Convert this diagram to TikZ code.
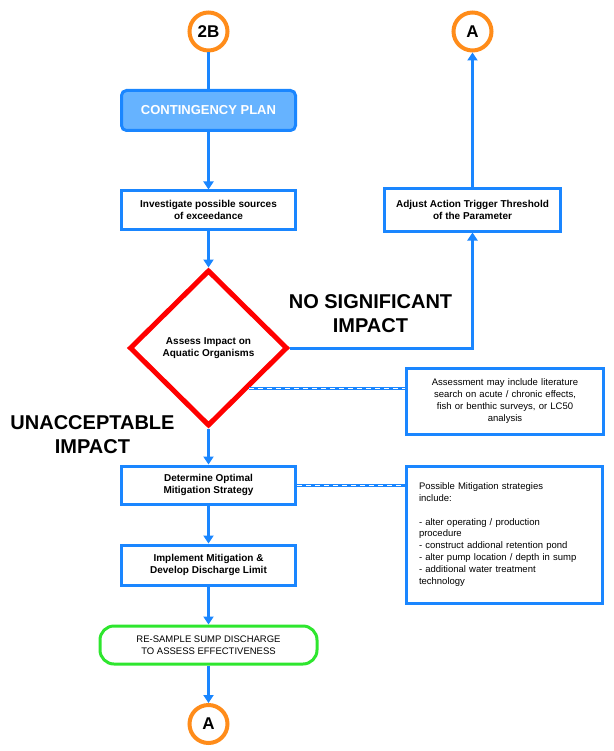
\documentclass[tikz,border=0pt]{standalone}
\usepackage{fontspec}
\setmainfont{Liberation Sans}
\usetikzlibrary{positioning,arrows.meta,shapes.geometric}
\definecolor{flowStroke}{HTML}{1A86FF}
\definecolor{planFill}{HTML}{66B3FF}
\definecolor{linkStroke}{HTML}{FF8C1A}
\definecolor{decStroke}{HTML}{FF0000}
\definecolor{endStroke}{HTML}{2EE62E}

\begin{document}
\begin{tikzpicture}[
  x=1pt, y=-1pt,
  font=\fontsize{10}{12}\selectfont,
  link/.style  ={draw=linkStroke, circle, line width=4pt, minimum size=38pt, inner sep=0pt, font=\fontsize{17}{20}\selectfont\bfseries},
  plan/.style  ={draw=flowStroke, fill=planFill, rounded corners=5pt, line width=3pt, minimum width=174pt, minimum height=40pt, text=white, font=\fontsize{13}{15}\selectfont\bfseries},
  task/.style  ={draw=flowStroke, fill=white, line width=3pt, minimum width=174pt, minimum height=38pt, align=center, font=\fontsize{10}{12}\selectfont\bfseries},
  dec/.style   ={draw=decStroke, diamond, line width=5pt, minimum width=158pt, minimum height=156pt, inner sep=0pt, align=center, font=\fontsize{10}{12}\selectfont\bfseries},
  note/.style  ={draw=flowStroke, line width=3pt, font=\fontsize{9.5}{11.8}\selectfont},
  term/.style  ={draw=endStroke, rounded corners=14pt, line width=3pt, minimum width=217pt, minimum height=38pt, align=center, font=\fontsize{9.5}{12.5}\selectfont},
  big/.style   ={align=center, font=\fontsize{20}{23.5}\selectfont\bfseries},
  arr/.style   ={draw=flowStroke, line width=3pt, -{Triangle[length=8pt,width=10pt]}},
  line/.style  ={draw=flowStroke, line width=3pt},
  dashlink/.style={draw=flowStroke, line width=3pt, postaction={draw=white, line width=1pt, dash pattern=on 5pt off 4pt}},
]
\useasboundingbox (0,0) rectangle (613,751);

% ==================== MAIN COLUMN ====================
\node[link] (in2b) at (208.5,31.5) {2B};
\node[plan] (plan) at (208.5,110.5) {CONTINGENCY PLAN};
\node[task] (invest) at (208.5,210) {Investigate possible sources\\of exceedance};
\node[dec] (assess) at (208.5,348) {Assess Impact on\\Aquatic Organisms};
\node[task] (optim) at (208.5,485) {Determine Optimal\\Mitigation Strategy};
\node[task, minimum height=40pt] (implem) at (208.5,565) {Implement Mitigation \&\\Develop Discharge Limit};
\node[term] (resamp) at (208.5,645) {RE-SAMPLE SUMP DISCHARGE\\TO ASSESS EFFECTIVENESS};
\node[link] (outA) at (208.5,724) {A};

% ==================== RIGHT BRANCH ====================
\node[task, minimum width=176pt, minimum height=42pt] (adjust) at (472.5,210) {Adjust Action Trigger Threshold\\of the Parameter};
\node[link] (upA) at (472.5,31.5) {A};

% Notes
\node[note, minimum width=197pt, minimum height=66pt, align=center, text width=185pt] (note1) at (505,401)
  {Assessment may include literature\\search on acute / chronic effects,\\fish or benthic surveys, or LC50\\analysis};
\node[note, minimum width=196pt, minimum height=137pt, align=left, text width=170pt] (note2) at (504,534.5)
  {Possible Mitigation strategies\\include:\\[11.8pt]- alter operating / production\\procedure\\- construct addional retention pond\\- alter pump location / depth in sump\\- additional water treatment\\technology};

% Branch labels
\node[big] (nosig) at (370.5,313.5) {NO SIGNIFICANT\\IMPACT};
\node[big] (unacc) at (92.5,434.5) {UNACCEPTABLE\\IMPACT};

% Arrows
\draw[line] (in2b) -- (plan);
\draw[arr] (plan) -- (invest);
\draw[arr] (invest) -- (assess.north);
\draw[arr] (assess.south) -- (optim);
\draw[arr] (optim) -- (implem);
\draw[arr] (implem) -- (resamp);
\draw[arr] (resamp) -- (outA);
\draw[arr] (assess.east) -| (adjust.south);
\draw[arr] (adjust) -- (upA);

% Note links
\draw[dashlink] (assess.south east) -- (assess.south east -| note1.west);
\draw[dashlink] (optim.east) -- (note2.west |- optim.east);

\end{tikzpicture}
\end{document}
